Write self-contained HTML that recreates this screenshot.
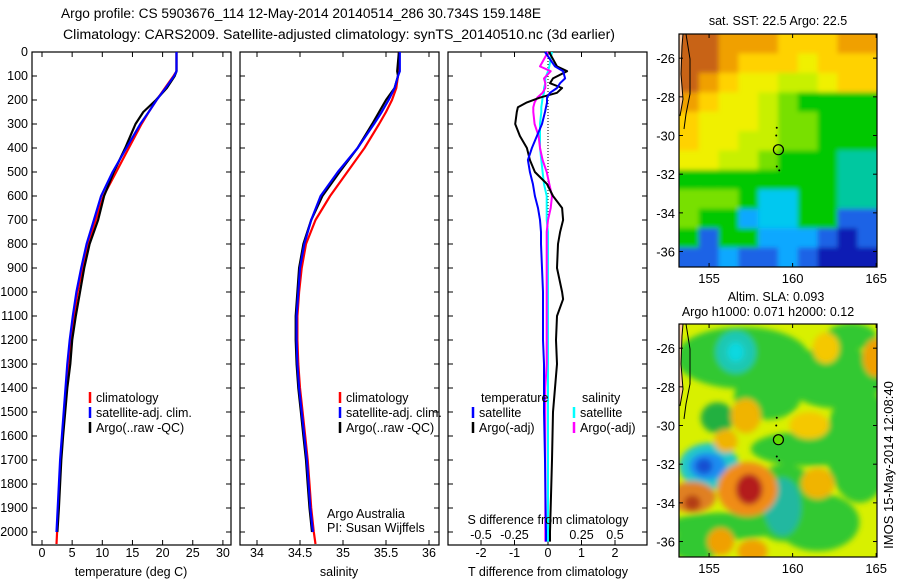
<!DOCTYPE html>
<html><head><meta charset="utf-8"><style>
html,body{margin:0;padding:0;background:#fff;}
svg{display:block;font-family:"Liberation Sans",sans-serif;}
text{font-size:12.5px;fill:#000;}
</style></head><body>
<svg id="fig" width="900" height="580" viewBox="0 0 900 580" xmlns="http://www.w3.org/2000/svg">
<text x="61" y="18" textLength="480" lengthAdjust="spacingAndGlyphs" style="font-size:13.5px">Argo profile: CS 5903676_114 12-May-2014 20140514_286 30.734S 159.148E</text>
<text x="63" y="39" textLength="552" lengthAdjust="spacingAndGlyphs" style="font-size:13.5px">Climatology: CARS2009. Satellite-adjusted climatology: synTS_20140510.nc (3d earlier)</text>
<g id="g1"></g><g id="g2"></g><g id="g3"></g><g id="m1"></g><g id="m2"></g>
<text transform="translate(893,465) rotate(-90)" text-anchor="middle" style="font-size:13px">IMOS 15-May-2014 12:08:40</text>
</svg>
<script>
// ---- profile data ----
const depths = [0,80,100,150,200,250,300,400,500,600,700,800,900,1000,1100,1200,1300,1400,1500,1600,1700,1800,1900,2000,2050];
const climT = [22.3,22.3,21.8,20.4,19.0,17.7,16.5,14.4,12.3,10.2,8.9,7.6,6.7,5.9,5.3,4.8,4.4,4.0,3.7,3.4,3.1,2.9,2.7,2.5,2.4];
const satT  = [22.3,22.3,21.9,20.5,19.0,17.7,16.3,14.0,11.7,9.8,8.6,7.4,6.5,5.7,5.1,4.6,4.2,3.9,3.6,3.3,3.0,2.8,2.6,2.4,2.3];
const argoT = [22.3,22.3,22.0,20.7,18.9,16.8,15.5,13.8,11.9,10.3,9.3,7.9,7.0,6.3,5.6,5.0,4.7,4.2,3.85,3.5,3.2,3.0,2.8,2.55,2.45];
const climS = [35.65,35.65,35.64,35.62,35.57,35.5,35.42,35.25,35.05,34.85,34.68,34.57,34.52,34.49,34.47,34.47,34.48,34.5,34.53,34.56,34.59,34.61,34.63,34.66,34.68];
const satS  = [35.66,35.66,35.64,35.6,35.53,35.45,35.36,35.17,34.94,34.74,34.63,34.55,34.5,34.48,34.46,34.46,34.47,34.49,34.52,34.55,34.58,34.6,34.62,34.65,34.67];
const argoS = [35.65,35.63,35.64,35.6,35.5,35.42,35.34,35.17,34.96,34.76,34.63,34.54,34.49,34.47,34.45,34.45,34.46,34.48,34.51,34.54,34.57,34.59,34.61,34.64,34.66];
// ---- difference data ----
const dDepths = [0,60,80,110,130,150,170,190,210,230,250,300,350,400,450,500,550,600,650,700,750,800,900,1000,1030,1100,1200,1300,1400,1500,1700,2000,2040];
const dTargo = [0.03,0.27,0.57,0.15,0.06,0.42,0.27,-0.24,-0.63,-0.9,-0.93,-0.98,-0.84,-0.63,-0.54,-0.39,-0.03,0.15,0.42,0.45,0.36,0.3,0.27,0.42,0.45,0.27,0.24,0.27,0.21,0.15,0.12,0.06,0.06];
const dTsat = [-0.09,0.21,0.45,0.51,0.36,0.27,0.06,-0.03,-0.03,-0.06,-0.09,-0.18,-0.33,-0.48,-0.6,-0.54,-0.45,-0.39,-0.3,-0.24,-0.21,-0.21,-0.18,-0.15,-0.15,-0.15,-0.15,-0.12,-0.12,-0.12,-0.09,-0.06,-0.06];
const dSsat = [0.03,0.01,0,-0.02,-0.02,-0.03,-0.03,-0.04,-0.045,-0.05,-0.05,-0.06,-0.06,-0.06,-0.05,-0.04,-0.03,-0.01,-0.01,-0.01,0,0,0,0,0,0,0,0,0,0,0,0,0];
const dSargo = [0,-0.06,0.02,-0.03,-0.02,-0.02,-0.04,-0.08,-0.1,-0.11,-0.11,-0.1,-0.07,-0.06,-0.04,-0.01,0.01,0.03,0.02,0,-0.01,-0.01,-0.01,-0.01,-0.01,-0.01,-0.01,-0.01,-0.02,-0.02,-0.02,-0.02,-0.02];
const depthTicks = [0,100,200,300,400,500,600,700,800,900,1000,1100,1200,1300,1400,1500,1600,1700,1800,1900,2000];
const tTicks = [0,5,10,15,20,25,30];
const sTicks = [34,34.5,35,35.5,36];
const dTTicks = [-2,-1,0,1,2];
const dSTicks = [-0.5,-0.25,0,0.25,0.5];
const lonTicks = [155,160,165];
const latTicks = [-26,-28,-30,-32,-34,-36];

const NS="http://www.w3.org/2000/svg";
function mk(parent,tag,attrs,txt){const e=document.createElementNS(NS,tag);for(const k in attrs)e.setAttribute(k,attrs[k]);if(txt!==undefined)e.textContent=txt;parent.appendChild(e);return e;}
const TOP=52, BOT=545;
const yD = d => TOP + d*0.24;
const xT = v => 42 + v*6.03;
const xS = v => 257 + (v-34)*86;
const xDT = v => 548 + v*33.5;
const xDS = v => 548 + v*134;

function frame(g,x0,x1,name){
  const r=mk(g,'rect',{x:x0,y:TOP,width:x1-x0,height:BOT-TOP,fill:'none',stroke:'#000','stroke-width':1.2});
  
  depthTicks.forEach(d=>{const y=yD(d);
    mk(g,'line',{x1:x0,x2:x0+5,y1:y,y2:y,stroke:'#000'});
    mk(g,'line',{x1:x1-5,x2:x1,y1:y,y2:y,stroke:'#000'});});
}
function line(g,xs,ys,fx,color,name,w){
  const pts=xs.map((v,i)=>fx(v).toFixed(1)+','+yD(ys[i]).toFixed(1)).join(' ');
  const p=mk(g,'polyline',{points:pts,fill:'none',stroke:color,'stroke-width':w||2.2,'stroke-linejoin':'round'});
  
}
function xticks(g,ticks,fx,y,lab){
  ticks.forEach(t=>{const x=fx(t);
    mk(g,'line',{x1:x,x2:x,y1:BOT-5,y2:BOT,stroke:'#000'});
    mk(g,'line',{x1:x,x2:x,y1:TOP,y2:TOP+5,stroke:'#000'});
    if(lab){const tx=mk(g,'text',{x:x,y:y,'text-anchor':'middle'},String(t));
      }});
}
function legend(g,x,y,color,label){
  mk(g,'line',{x1:x,x2:x,y1:y-10,y2:y+1,stroke:color,'stroke-width':2.5});
  const t=mk(g,'text',{x:x+6,y:y},label);
  
}
// Panel 1
const g1=document.getElementById('g1');
frame(g1,32,231,'temperature-panel');
depthTicks.forEach(d=>{const t=mk(g1,'text',{x:28,y:yD(d)+4,'text-anchor':'end'},String(d));
  });
xticks(g1,tTicks,xT,557,true);
line(g1,climT,depths,xT,'#f00','climatology-temperature-line');
line(g1,argoT.slice(0,24),depths.slice(0,24),xT,'#000','argo-temperature-line');
line(g1,satT.slice(0,24),depths.slice(0,24),xT,'#00f','satellite-temperature-line');
legend(g1,90,402,'#f00','climatology');legend(g1,90,417,'#00f','satellite-adj. clim.');legend(g1,90,432,'#000','Argo(..raw -QC)');
{const t=mk(g1,'text',{x:131,y:576,'text-anchor':'middle'},'temperature (deg C)');}
// Panel 2
const g2=document.getElementById('g2');
frame(g2,240,439,'salinity-panel');
xticks(g2,sTicks,xS,557,true);
line(g2,climS,depths,xS,'#f00','climatology-salinity-line');
line(g2,argoS.slice(0,24),depths.slice(0,24),xS,'#000','argo-salinity-line');
line(g2,satS.slice(0,24),depths.slice(0,24),xS,'#00f','satellite-salinity-line');
legend(g2,340,402,'#f00','climatology');legend(g2,340,417,'#00f','satellite-adj. clim.');legend(g2,340,432,'#000','Argo(..raw -QC)');
{const t=mk(g2,'text',{x:327,y:518},'Argo Australia');
 const u=mk(g2,'text',{x:327,y:532},'PI: Susan Wijffels');
 const v=mk(g2,'text',{x:339,y:576,'text-anchor':'middle'},'salinity');}
// Panel 3
const g3=document.getElementById('g3');
frame(g3,448,647,'difference-panel');
xticks(g3,dTTicks,xDT,557,true);
dSTicks.forEach(t=>{const tx=mk(g3,'text',{x:xDS(t),y:539,'text-anchor':'middle'},String(t));});
mk(g3,'line',{x1:548,x2:548,y1:TOP,y2:BOT,stroke:'#000','stroke-dasharray':'1,2'});
line(g3,dSsat,dDepths,xDS,'#0ff','salinity-satellite-diff',2);
line(g3,dSargo,dDepths,xDS,'#f0f','salinity-argo-diff',2);
line(g3,dTargo,dDepths,xDT,'#000','temperature-argo-diff',2);
line(g3,dTsat,dDepths,xDT,'#00f','temperature-satellite-diff',2);
{const t=mk(g3,'text',{x:481,y:402},'temperature');
 const s=mk(g3,'text',{x:582,y:402},'salinity');}
legend(g3,473,417,'#00f','satellite');legend(g3,473,432,'#000','Argo(-adj)');
legend(g3,574,417,'#0ff','satellite');legend(g3,574,432,'#f0f','Argo(-adj)');
{const t=mk(g3,'text',{x:548,y:524,'text-anchor':'middle'},'S difference from climatology');
 const u=mk(g3,'text',{x:548,y:576,'text-anchor':'middle'},'T difference from climatology');}

// ---- Maps ----
const C={b:'#c86414',o:'#f0a000',Y:'#ffd200',y:'#f0f000',g:'#c8f000',l:'#78e000',G:'#00c800',t:'#00c8a0',c:'#00c8f0',L:'#10a8ff',B:'#1e64e6',D:'#0a1eb4'};
const sstGrid=[
'bboooYYYoo',
'bboYYYyYYY',
'boYyyggyYY',
'oYyyglGGGG',
'Yyyygl lGGG'.replace(' ',''),
'YyyggllGGG',
'yygglGGGtt',
'GGGGGGGGtt',
'lllGccGGtt',
'lGGLccGGBB',
'GBGGLLLBDB',
'BBLBBLBDDD'];
function mapAxes(x0,y0,x1,y1,lat0,lat1){
  const lon0=153.2,lon1=165.05;
  const fx=v=>x0+(v-lon0)/(lon1-lon0)*(x1-x0), fy=v=>y0+(lat0-v)/(lat0-lat1)*(y1-y0);
  return {fx,fy};
}
function decorate(g,x0,y0,x1,y1,fx,fy,name){
  mk(g,'path',{d:`M${x0},${y0} L${x0+4},${y0} L${x0+3},${y0+12} L${x0+2},${y0+40} L${x0+4},${y0+65} L${x0+1},${y0+80} L${x0},${y0+80} Z`,fill:'#fac8a0'});
  mk(g,'path',{d:`M${x0+4},${y0} L${x0+3},${y0+12} L${x0+2},${y0+40} L${x0+4},${y0+65} L${x0+1},${y0+82}`,fill:'none',stroke:'#000','stroke-width':1});
  mk(g,'path',{d:`M${x0+7},${y0} L${x0+11},${y0+25} L${x0+11},${y0+60} L${x0+7},${y0+80} L${x0+5},${y0+95}`,fill:'none',stroke:'#000','stroke-width':1});
  const c=mk(g,'circle',{cx:fx(159.15),cy:fy(-30.734),r:5,fill:'none',stroke:'#000','stroke-width':1.2});
  
  [[159.05,-29.6],[159.02,-30.0],[159.05,-31.6],[159.2,-31.8]].forEach(p=>mk(g,'circle',{cx:fx(p[0]),cy:fy(p[1]),r:1,fill:'#000'}));
  const r=mk(g,'rect',{x:x0,y:y0,width:x1-x0,height:y1-y0,fill:'none',stroke:'#000','stroke-width':1.2});
  
  lonTicks.forEach(t=>{const x=fx(t);mk(g,'line',{x1:x,x2:x,y1:y0,y2:y0+4,stroke:'#000'});mk(g,'line',{x1:x,x2:x,y1:y1-4,y2:y1,stroke:'#000'});
    const tx=mk(g,'text',{x:x,y:y1+16,'text-anchor':'middle','style':'font-size:13px'},String(t));});
  latTicks.forEach(t=>{const y=fy(t);mk(g,'line',{x1:x0,x2:x0+4,y1:y,y2:y,stroke:'#000'});mk(g,'line',{x1:x1-4,x2:x1,y1:y,y2:y,stroke:'#000'});
    const tx=mk(g,'text',{x:x0-4,y:y+5,'text-anchor':'end','style':'font-size:13px'},String(t));});
}
// SST map
(function(){
  const g=document.getElementById('m1');const x0=679,y0=34,x1=877,y1=267;
  const a=mapAxes(x0,y0,x1,y1,-24.75,-36.8);
  const defs=mk(g,'defs',{});
  const cp=mk(defs,'clipPath',{id:'cp1'});mk(cp,'rect',{x:x0,y:y0,width:x1-x0,height:y1-y0});
  const f=mk(defs,'filter',{id:'bl1',x:'-10%',y:'-10%',width:'120%',height:'120%'});mk(f,'feGaussianBlur',{stdDeviation:2.5});
  const wrap=mk(g,'g',{'clip-path':'url(#cp1)'});
  const bg=mk(wrap,'g',{filter:'url(#bl1)'});
  const rows=sstGrid.length,cols=10,cw=(x1-x0)/cols,ch=(y1-y0)/rows;
  sstGrid.forEach((row,i)=>{for(let j=0;j<cols;j++)mk(bg,'rect',{x:(x0+j*cw-(j==0?6:0)).toFixed(1),y:(y0+i*ch-(i==0?6:0)).toFixed(1),width:(cw+0.6+(j==0||j==cols-1?6:0)).toFixed(1),height:(ch+0.6+(i==0||i==rows-1?6:0)).toFixed(1),fill:C[row[j]]});});
  decorate(g,x0,y0,x1,y1,a.fx,a.fy,'sst-map');
  const t=mk(g,'text',{x:778,y:25,'text-anchor':'middle'},'sat. SST: 22.5 Argo: 22.5');
})();
// SLA map
(function(){
  const g=document.getElementById('m2');const x0=679,y0=324,x1=877,y1=557;
  const a=mapAxes(x0,y0,x1,y1,-24.75,-36.8);
  const defs=mk(g,'defs',{});
  const cp=mk(defs,'clipPath',{id:'cp2'});mk(cp,'rect',{x:x0,y:y0,width:x1-x0,height:y1-y0});
  const f=mk(defs,'filter',{id:'bl',x:'-50%',y:'-50%',width:'200%',height:'200%'});mk(f,'feGaussianBlur',{stdDeviation:3});
  const img=mk(g,'g',{'clip-path':'url(#cp2)'});
  mk(img,'rect',{x:x0,y:y0,width:x1-x0,height:y1-y0,fill:'#d8f000'});
  const bl=mk(img,'g',{filter:'url(#bl)'});
  const blobs=[
  [157,-26.5,4,1.6,'#30c830'],[162.5,-27.5,3,1.6,'#30c830'],[158.5,-28.5,2,1.2,'#30c830'],[164,-31,2,3,'#30c830'],[161,-31.2,3.5,0.9,'#30c830'],
  [159.5,-34,2.2,2,'#30c830'],[156,-35.2,3.5,0.7,'#30c830'],[161.5,-35,2.5,1.5,'#30c830'],[154.2,-36.2,1.5,0.8,'#30c830'],[163.5,-25.4,1.5,0.7,'#30c830'],
  [155.5,-29.6,1,0.8,'#20b040'],[156.6,-26.2,1.2,1.1,'#1ec8b4'],[156.6,-26.2,0.5,0.5,'#10d8e0'],
  [155,-32.1,1.8,1.2,'#20c8c8'],[154.9,-32.1,1.1,0.7,'#1e8cf0'],[154.7,-32.1,0.5,0.4,'#1450d2'],
  [159.4,-34.2,1.1,1.5,'#20b8a0'],
  [157.3,-33.3,1.8,1.4,'#f08c14'],[157.4,-33.3,0.8,0.8,'#b41e1e'],[154,-33.7,1.4,0.8,'#e08020'],[154,-34,0.5,0.4,'#b43c14'],
  [157.2,-29.5,0.9,0.9,'#f0b400'],[161,-30,1.2,0.7,'#f5c800'],[161.5,-33,1,0.8,'#f0b400'],[165,-26.5,0.8,1,'#f0a000'],
  [155.7,-36,0.8,0.7,'#f0a000'],[157.6,-36.5,0.9,0.6,'#f0a000'],[162,-26,0.8,0.8,'#f5c800'],[156,-30.8,0.7,0.6,'#f0b400']];
  blobs.forEach(b=>mk(bl,'ellipse',{cx:a.fx(b[0]),cy:a.fy(b[1]),rx:b[2]*16.7,ry:b[3]*19.3,fill:b[4]}));
  mk(img,'circle',{cx:a.fx(159.15),cy:a.fy(-30.734),r:5,fill:'#64dc00'});
  decorate(g,x0,y0,x1,y1,a.fx,a.fy,'sla-map');
  const t=mk(g,'text',{x:776,y:301,'text-anchor':'middle'},'Altim. SLA: 0.093');
  const u=mk(g,'text',{x:768,y:316,'text-anchor':'middle'},'Argo h1000: 0.071 h2000: 0.12');
})();
</script>
</body></html>
